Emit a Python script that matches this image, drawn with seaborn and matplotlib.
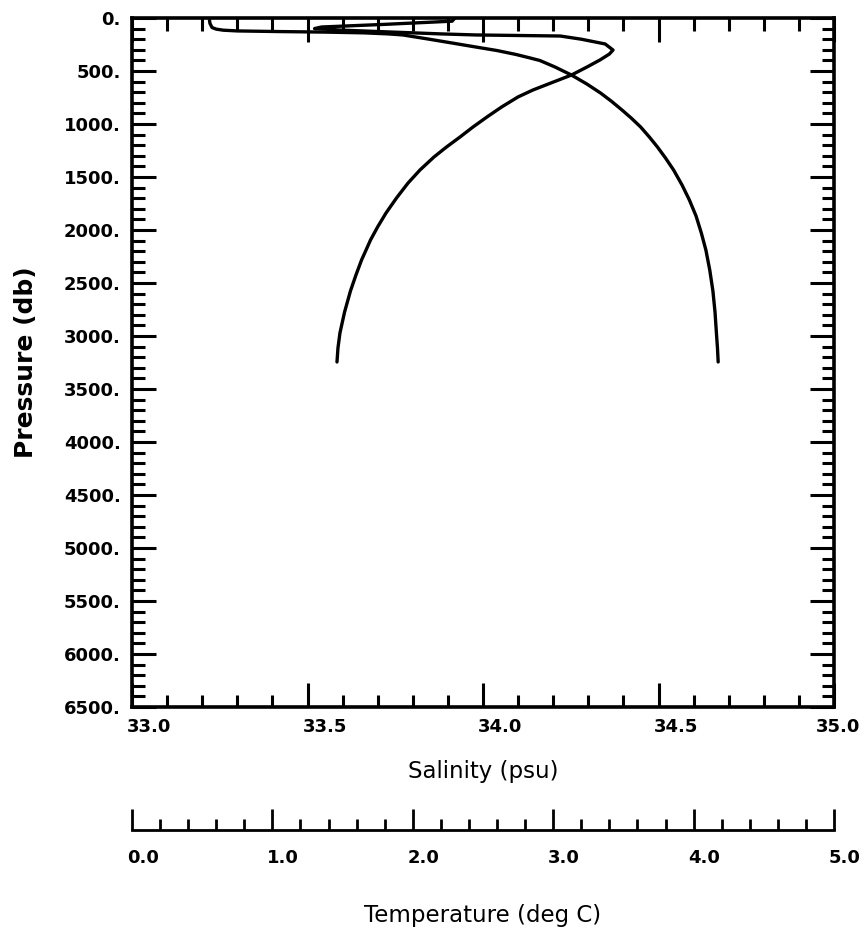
import numpy as np
import pandas as pd
import matplotlib
matplotlib.use("Agg")
import matplotlib.pyplot as plt
from matplotlib.ticker import MultipleLocator, FixedLocator
from matplotlib.transforms import ScaledTranslation
import seaborn as sns

# CTD cast: salinity and temperature against pressure
sal_pressure = [0, 50, 90, 105, 115, 122, 128, 133, 140, 150, 160, 198, 236, 274,
                307, 344, 377, 401, 462, 538, 623, 708, 783, 868, 943, 1028,
                1123, 1217, 1321, 1434, 1575, 1717, 1868, 2028, 2189, 2377,
                2575, 2774, 2972, 3113, 3245]
salinity = [33.220, 33.222, 33.228, 33.240, 33.260, 33.300, 33.420, 33.550,
            33.660, 33.730, 33.772, 33.843, 33.912, 33.980, 34.040, 34.094,
            34.134, 34.162, 34.205, 34.252, 34.296, 34.335, 34.365, 34.396,
            34.422, 34.449, 34.474, 34.497, 34.520, 34.543, 34.567, 34.588,
            34.607, 34.622, 34.635, 34.646, 34.655, 34.661, 34.665, 34.668,
            34.670]

temp_pressure = [0, 30, 60, 85, 100, 115, 135, 150, 160, 170, 200, 245, 302, 340,
                 396, 462, 538, 613, 679, 745, 840, 934, 1028, 1123, 1217, 1311,
                 1434, 1557, 1698, 1840, 1972, 2094, 2189, 2283, 2425, 2575,
                 2774, 2972, 3113, 3245]
temperature = [2.30, 2.28, 1.80, 1.35, 1.30, 1.50, 1.90, 2.20, 2.45, 3.05, 3.20,
               3.37, 3.426, 3.40, 3.333, 3.241, 3.130, 2.984, 2.856, 2.749,
               2.632, 2.528, 2.429, 2.336, 2.240, 2.151, 2.051, 1.966, 1.884,
               1.809, 1.749, 1.699, 1.667, 1.635, 1.595, 1.556, 1.514, 1.481,
               1.467, 1.460]

pressure_ticks = list(range(0, 6501, 500))
pressure_labels = [f"{p}." for p in pressure_ticks]
salinity_ticks = [33.0, 33.5, 34.0, 34.5, 35.0]
salinity_labels = ["33.0", "33.5", "34.0", "34.5", "35.0"]
temperature_ticks = [0.0, 1.0, 2.0, 3.0, 4.0, 5.0]
temperature_labels = ["0.0", "1.0", "2.0", "3.0", "4.0", "5.0"]

sal_df = pd.DataFrame({"pressure": sal_pressure, "salinity": salinity})
tmp_df = pd.DataFrame({"pressure": temp_pressure, "temperature": temperature})

sns.set_theme(style="white")
plt.rcParams["font.family"] = ["DejaVu Sans"]
plt.rcParams["text.color"] = "black"
plt.rcParams["axes.labelcolor"] = "black"
plt.rcParams["xtick.color"] = "black"
plt.rcParams["ytick.color"] = "black"

W, H = 863, 942
fig = plt.figure(figsize=(W / 100, H / 100), dpi=100)
fig.patch.set_facecolor("white")

left, right, top, bottom = 132, 834, 18, 707
ax = fig.add_axes([left / W, 1 - bottom / H, (right - left) / W, (bottom - top) / H])
ax.set_facecolor("white")

line_kw = dict(color="black", linewidth=2.4, sort=False, estimator=None, legend=False)
sns.lineplot(data=sal_df, x="salinity", y="pressure", orient="y", ax=ax, **line_kw)

ax.set_xlim(33.0, 35.0)
ax.set_ylim(6500, 0)

# temperature curve shares the pressure scale, on a 0-5 degree range
axt = ax.twiny()
sns.lineplot(data=tmp_df, x="temperature", y="pressure", orient="y", ax=axt, **line_kw)
axt.set_xlim(0, 5)
axt.set_ylim(6500, 0)
axt.axis("off")

for s in ax.spines.values():
    s.set_linewidth(2.6)
    s.set_color("black")

ax.xaxis.set_major_locator(FixedLocator(salinity_ticks))
ax.xaxis.set_minor_locator(MultipleLocator(0.1))
ax.yaxis.set_major_locator(FixedLocator(pressure_ticks))
ax.yaxis.set_minor_locator(MultipleLocator(100))
ax.set_xticklabels(salinity_labels)
ax.set_yticklabels(pressure_labels)
ax.tick_params(which="both", direction="in", top=True, right=True, bottom=True,
               left=True, color="black", width=2.2)
ax.tick_params(which="major", length=17, labelsize=13, pad=8)
ax.tick_params(which="minor", length=9)
for lab in ax.get_xticklabels() + ax.get_yticklabels():
    lab.set_fontweight("bold")


def start_labels_at_ticks(axis_labels, last_shift):
    # tick labels begin just left of their tick; the last one is pulled in
    lead = ScaledTranslation(-0.05, 0, fig.dpi_scale_trans)
    tail = ScaledTranslation(last_shift, 0, fig.dpi_scale_trans)
    for lab in axis_labels[:-1]:
        lab.set_horizontalalignment("left")
        lab.set_transform(lab.get_transform() + lead)
    axis_labels[-1].set_horizontalalignment("right")
    axis_labels[-1].set_transform(axis_labels[-1].get_transform() + tail)


start_labels_at_ticks(ax.get_xticklabels(), 0.26)

ax.set_xlabel("Salinity (psu)", fontsize=16.5, labelpad=17)
ax.set_ylabel("Pressure (db)", fontsize=18, fontweight="bold", labelpad=19)

# separate temperature scale below the salinity axis
tline = 830
axs = fig.add_axes([left / W, 1 - tline / H, (right - left) / W, 0.0005])
axs.set_facecolor("none")
for side in ("top", "left", "right"):
    axs.spines[side].set_visible(False)
axs.spines["bottom"].set_linewidth(2.0)
axs.spines["bottom"].set_color("black")
axs.set_xlim(0, 5)
axs.set_yticks([])
axs.xaxis.set_major_locator(FixedLocator(temperature_ticks))
axs.xaxis.set_minor_locator(MultipleLocator(0.2))
axs.set_xticklabels(temperature_labels)
axs.tick_params(axis="x", which="both", direction="in", bottom=True, top=False,
                color="black", width=2.0)
axs.tick_params(axis="x", which="major", length=15, labelsize=13, pad=14)
axs.tick_params(axis="x", which="minor", length=8)
for lab in axs.get_xticklabels():
    lab.set_fontweight("bold")
start_labels_at_ticks(axs.get_xticklabels(), 0.0)
axs.get_xticklabels()[-1].set_horizontalalignment("left")
axs.get_xticklabels()[-1].set_transform(
    axs.get_xticklabels()[-1].get_transform()
    + ScaledTranslation(-0.05, 0, fig.dpi_scale_trans))
axs.set_xlabel("Temperature (deg C)", fontsize=16.5, labelpad=26)

fig.savefig("out.png", dpi=100, facecolor="white")
